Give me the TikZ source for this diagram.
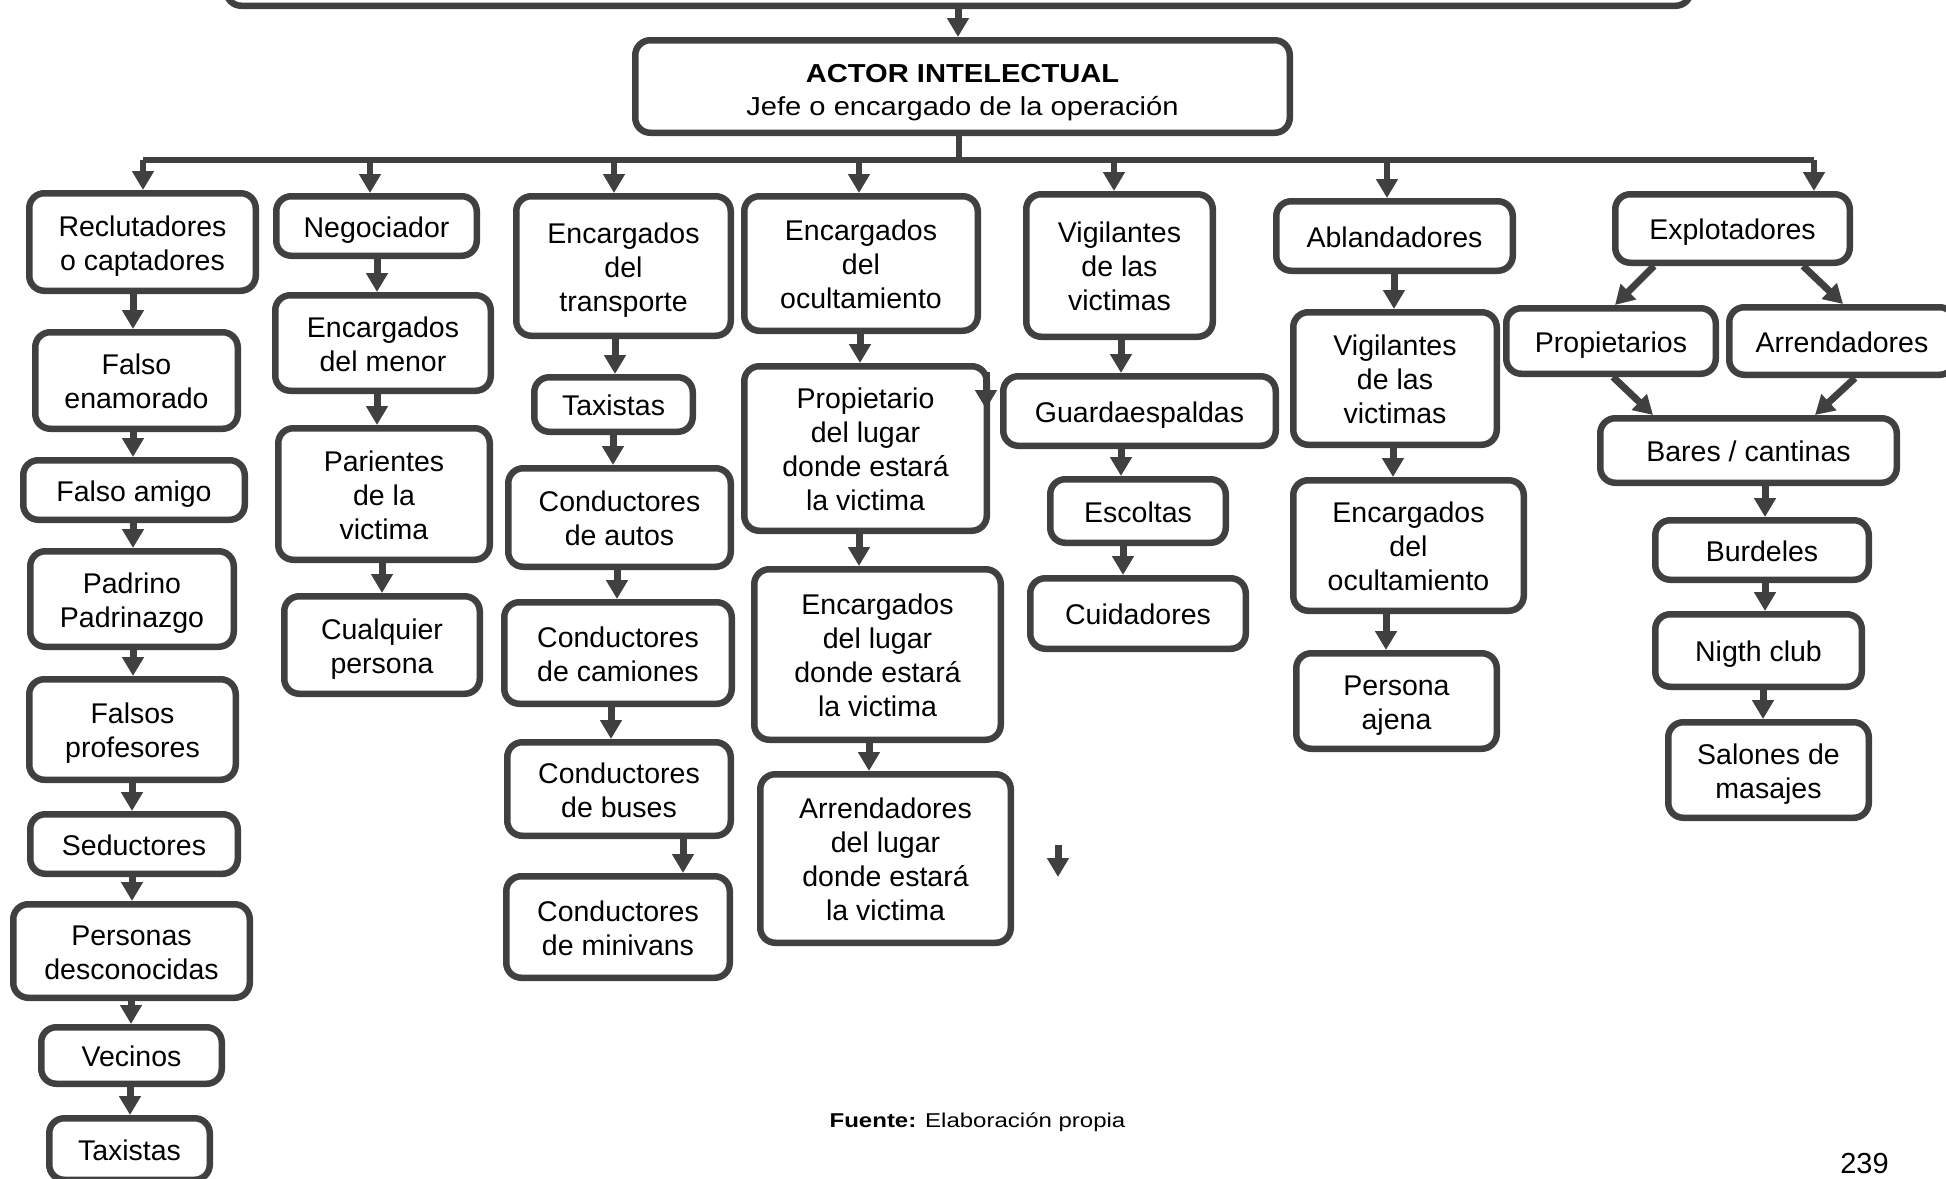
\documentclass[tikz,border=0pt]{standalone}
\usepackage{fontspec}
\setmainfont{Liberation Sans}
\usetikzlibrary{arrows.meta}
\definecolor{ln}{RGB}{64,64,64}
\tikzset{
 bx/.style={draw=ln, line width=6.5pt, rounded corners=15pt, fill=white, inner sep=0pt, font=\fontsize{28.5}{34}\selectfont, text=black},
 arr/.style={draw=ln, line width=7pt, -{Triangle[width=21pt,length=19pt]}},
 barline/.style={draw=ln, line width=6pt},
}
\newcommand\bx[6]{\node[bx, minimum width={#4-#2-6.5}, minimum height={#5-#3-6.5}] (#1) at ({(#2+#4)/2},{(#3+#5)/2}) {\raisebox{-4.5pt}[\height][\depth]{\begin{tabular}{@{}c@{}}#6\end{tabular}}};}
\newcommand\va[3]{\draw[arr] (#1.south -| #3,0) -- (#2.north -| #3,0);}
\begin{document}
\begin{tikzpicture}[x=1pt,y=-1pt]
\useasboundingbox (0,0) rectangle (1946,1178);
\fill[white] (0,0) rectangle (1946,1178);
\clip (0,0) rectangle (1946,1178);
% top and actor
\node[bx, minimum width=1464.5, minimum height=91.5] (topbox) at (958.5,-40) {};
\bx{actor}{632}{37}{1293}{136}{}
\node[font=\fontsize{26}{33.5}\selectfont, align=center, inner sep=0pt] (actt) at (962.5,92.5) {\scalebox{1.12}[1]{\bfseries ACTOR INTELECTUAL}\\\scalebox{1.12}[1]{Jefe o encargado de la operación}};
\draw[arr] (topbox.south -| 958,0) -- (actor.north -| 958,0);
% column 1
\bx{rec}{26}{190}{259}{294}{Reclutadores\\o captadores}
\bx{fen}{32}{329}{241}{432}{Falso\\enamorado}
\bx{fam}{20}{457}{248}{523}{Falso amigo}
\bx{pad}{27}{548}{237}{650}{Padrino\\Padrinazgo}
\bx{fpr}{26}{676}{239}{783}{Falsos\\profesores}
\bx{sed}{27}{811}{241}{877}{Seductores}
\bx{pdes}{10}{901}{253}{1001}{Personas\\desconocidas}
\bx{vec}{38}{1024}{225}{1087}{Vecinos}
\bx{taxa}{46}{1115}{213}{1183}{Taxistas}
% column 2
\bx{neg}{273}{193}{480}{259}{Negociador}
\bx{emen}{272}{292}{494}{394}{Encargados\\del menor}
\bx{par}{275}{425}{493}{563}{Parientes\\de la\\victima}
\bx{cual}{281}{593}{483}{697}{Cualquier\\persona}
% column 3
\bx{etr}{513}{193}{734}{339}{Encargados\\del\\transporte}
\bx{taxb}{531}{374}{696}{435}{Taxistas}
\bx{caut}{505}{465}{734}{570}{Conductores\\de autos}
\bx{ccam}{501}{599}{735}{707}{Conductores\\de camiones}
\bx{cbus}{504}{739}{734}{839}{Conductores\\de buses}
\bx{cmin}{503}{873}{733}{981}{Conductores\\de minivans}
% column 4
\bx{eoc}{741}{193}{981}{334}{Encargados\\del\\ocultamiento}
\bx{prop}{741}{363}{990}{534}{Propietario\\del lugar\\donde estará\\la victima}
\bx{elug}{751}{566}{1004}{743}{Encargados\\del lugar\\donde estará\\la victima}
\bx{alug}{757}{771}{1014}{946}{Arrendadores\\del lugar\\donde estará\\la victima}
% column 5
\bx{vig}{1023}{191}{1216}{340}{Vigilantes\\de las\\victimas}
\bx{gua}{1000}{373}{1279}{449}{Guardaespaldas}
\bx{esc}{1047}{476}{1229}{546}{Escoltas}
\bx{cui}{1027}{575}{1249}{652}{Cuidadores}
% column 6
\bx{abl}{1273}{198}{1516}{274}{Ablandadores}
\bx{vigb}{1290}{309}{1500}{448}{Vigilantes\\de las\\victimas}
\bx{eocb}{1290}{477}{1527}{614}{Encargados\\del\\ocultamiento}
\bx{paj}{1293}{650}{1500}{752}{Persona\\ajena}
% column 7
\bx{expl}{1612}{191}{1853}{266}{Explotadores}
\bx{ppt}{1503}{305}{1719}{377}{Propietarios}
\bx{arrd}{1726}{304}{1958}{378}{Arrendadores}
\bx{bar}{1597}{415}{1900}{486}{Bares / cantinas}
\bx{bur}{1652}{517}{1872}{583}{Burdeles}
\bx{nig}{1652}{611}{1865}{690}{Nigth club}
\bx{sal}{1665}{719}{1872}{821}{Salones de\\masajes}
% distribution bar
\coordinate (bj) at (959,160);
\coordinate (bl) at (143,160);
\coordinate (br) at (1814,160);
\draw[barline] (actor.south -| bj) -- (bj);
\draw[barline] (bl) -- (br);
\foreach \c/\x in {rec/143, neg/370, etr/614, eoc/859, vig/1114, abl/1387, expl/1814}{
  \draw[arr, line width=5.5pt] (\x,160) -- (\c.north -| \x,0);
}
% column arrows
\va{rec}{fen}{133}
\va{fen}{fam}{133}
\va{fam}{pad}{133}
\va{pad}{fpr}{133}
\va{fpr}{sed}{132}
\va{sed}{pdes}{132}
\va{pdes}{vec}{131}
\va{vec}{taxa}{130}
\va{neg}{emen}{377}
\va{emen}{par}{377}
\va{par}{cual}{382}
\va{etr}{taxb}{615}
\va{taxb}{caut}{613}
\va{caut}{ccam}{617}
\va{ccam}{cbus}{611}
\va{cbus}{cmin}{683}
\va{eoc}{prop}{860}
\va{prop}{elug}{859}
\va{elug}{alug}{869}
\va{vig}{gua}{1121}
\va{gua}{esc}{1121}
\va{esc}{cui}{1123}
\va{abl}{vigb}{1394}
\va{vigb}{eocb}{1393}
\va{eocb}{paj}{1386}
\va{bar}{bur}{1765}
\va{bur}{nig}{1765}
\va{nig}{sal}{1763}
% diagonals
\draw[arr] (expl.south -| 1654,0) -- (ppt.north -| 1615,0);
\draw[arr] (expl.south -| 1803,0) -- (arrd.north -| 1843,0);
\draw[arr] (ppt.south -| 1613,0) -- (bar.north -| 1653,0);
\draw[arr] (arrd.south -| 1855,0) -- (bar.north -| 1815,0);
% stray arrows
\coordinate (sa1) at (986,372);
\coordinate (sa2) at (986,409);
\draw[arr] (sa1) -- (sa2);
\coordinate (sb1) at (1058,845);
\coordinate (sb2) at (1058,877);
\draw[arr] (sb1) -- (sb2);
% footer
\node[anchor=base, inner sep=0pt] (fuente) at (977.5,1127) {\scalebox{1.2}[1]{\fontsize{20}{23}\selectfont\textbf{Fuente:} Elaboración propia}};
\node[anchor=base, inner sep=0pt, font=\fontsize{29}{34}\selectfont] (pagenum) at (1864.5,1173) {239};
\end{tikzpicture}
\end{document}
